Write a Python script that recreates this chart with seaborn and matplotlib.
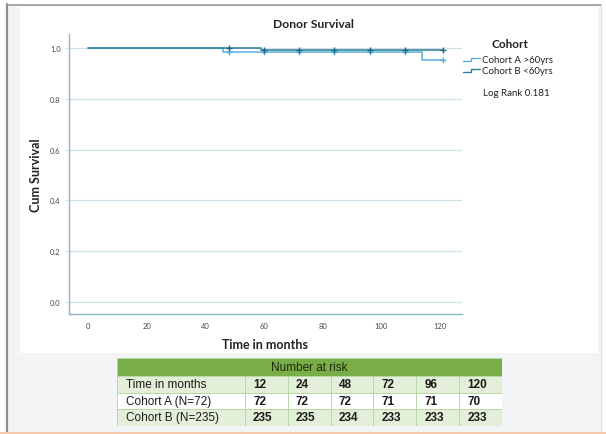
import numpy as np
import pandas as pd
import matplotlib
matplotlib.use("Agg")
import matplotlib.pyplot as plt
import seaborn as sns
from matplotlib.patches import Rectangle
from matplotlib.lines import Line2D

# Kaplan-Meier step data (months, cumulative survival)
cohorts = ["Cohort A >60yrs", "Cohort B <60yrs"]
time_a = [0, 46, 114, 121]
surv_a = [1.0, 0.986, 0.953, 0.953]
time_b = [0, 59, 121]
surv_b = [1.0, 0.991, 0.991]
censor_a = [48, 60, 72, 84, 96, 108, 121]
censor_b = [48, 60, 72, 84, 96, 108, 121]
log_rank = 0.181

xticks = [0, 20, 40, 60, 80, 100, 120]
yticks = [0.0, 0.2, 0.4, 0.6, 0.8, 1.0]

# Number-at-risk table
risk_times = [12, 24, 48, 72, 96, 120]
risk_a = [72, 72, 72, 71, 71, 70]
risk_b = [235, 235, 234, 233, 233, 233]
risk_rows = ["Time in months", "Cohort A (N=72)", "Cohort B (N=235)"]

col_a = "#5aafe0"
col_b = "#2d7f98"

sns.set_style("white")
plt.rcParams["font.family"] = ["Lato", "DejaVu Sans"]

W, H = 606, 435
fig = plt.figure(figsize=(W / 100, H / 100), dpi=100)
fig.patch.set_facecolor("white")


def frame(x0, y0, x1, y1):
    """Axes rectangle given in pixel coordinates (top-left origin)."""
    return [x0 / W, 1 - y1 / H, (x1 - x0) / W, (y1 - y0) / H]


# Background panel with frame
bg = fig.add_axes([0, 0, 1, 1], zorder=0)
bg.set_xlim(0, W)
bg.set_ylim(H, 0)
bg.axis("off")
bg.add_patch(Rectangle((7, 6), 594, 427, facecolor="#f3f4f5", edgecolor="none"))
bg.add_patch(Rectangle((20, 8), 578, 346, facecolor="white", edgecolor="none"))
bg.plot([7, 7], [5, 433], color="#8e8e8e", lw=1.6)
bg.plot([7, 601], [6, 6], color="#9a9a9a", lw=1.2)
bg.plot([601, 601], [6, 433], color="#e2e2e2", lw=0.8)
bg.plot([0, W], [433.5, 433.5], color="#f5c9a9", lw=1.4)

# Survival plot
ax = fig.add_axes(frame(69, 35, 462, 315), zorder=2)
ax.set_facecolor("white")

df = pd.concat([
    pd.DataFrame({"time": time_a, "surv": surv_a, "cohort": cohorts[0]}),
    pd.DataFrame({"time": time_b, "surv": surv_b, "cohort": cohorts[1]}),
])


def step_value(times, survs, t):
    idx = np.searchsorted(times, t, side="right") - 1
    return survs[idx]


cens = pd.concat([
    pd.DataFrame({"time": censor_a,
                  "surv": [step_value(time_a, surv_a, t) for t in censor_a],
                  "cohort": cohorts[0]}),
    pd.DataFrame({"time": censor_b,
                  "surv": [step_value(time_b, surv_b, t) for t in censor_b],
                  "cohort": cohorts[1]}),
])

palette = {cohorts[0]: col_a, cohorts[1]: col_b}
for c in cohorts:
    sub = df[df["cohort"] == c]
    sns.lineplot(data=sub, x="time", y="surv", ax=ax, color=palette[c],
                 drawstyle="steps-post", estimator=None, lw=1.1, legend=False,
                 zorder=3 if c == cohorts[1] else 2)
for c in cohorts:
    sub = cens[cens["cohort"] == c]
    sns.scatterplot(data=sub, x="time", y="surv", ax=ax, marker="+",
                    color="#1f6a82" if c == cohorts[1] else col_a,
                    s=16, linewidth=1.0, legend=False, zorder=4)

ax.set_xlim(-6.5, 127.5)
ax.set_ylim(-0.047, 1.055)
ax.set_xticks(xticks)
ax.set_yticks(yticks)
ax.set_xticklabels([str(v) for v in xticks])
ax.set_yticklabels([f"{v:.1f}" for v in yticks])
ax.yaxis.grid(True, color="#cfe0e8", lw=0.9)
ax.xaxis.grid(False)
ax.tick_params(axis="y", length=3, width=0.6, color="#cfe0e8",
               labelsize=5.5, labelcolor="#4a4a4a", pad=3, left=True)
ax.tick_params(axis="x", length=0, labelsize=5.5, labelcolor="#4a4a4a", pad=6)
for side in ["top", "right"]:
    ax.spines[side].set_visible(False)
for side in ["left", "bottom"]:
    ax.spines[side].set_color("#8db7c8")
    ax.spines[side].set_linewidth(1.0)
ax.set_xlabel("Time in months", fontsize=9, fontweight="bold",
              color="#222222", labelpad=6)
ax.set_ylabel("Cum Survival", fontsize=9, fontweight="bold",
              color="#222222", labelpad=6)

# Overlay for title and legend in pixel coordinates
ov = fig.add_axes([0, 0, 1, 1], zorder=5)
ov.set_xlim(0, W)
ov.set_ylim(H, 0)
ov.axis("off")
ov.patch.set_alpha(0)
ov.text(313, 25, "Donor Survival", fontsize=8.7, fontweight="bold",
        ha="center", va="center", color="#222222")
ov.text(510, 44, "Cohort", fontsize=8.5, fontweight="bold",
        ha="center", va="center", color="#222222")
for i, (c, col) in enumerate(zip(cohorts, [col_a, col_b])):
    y = 60.5 + 11 * i
    ov.add_line(Line2D([463, 471, 471, 480], [y + 1.5, y + 1.5, y - 1.5, y - 1.5],
                       color=col, lw=1.0))
    ov.text(482, y, c, fontsize=7, ha="left", va="center", color="#222222")
ov.text(516, 93, f"Log Rank {log_rank}", fontsize=7, ha="center",
        va="center", color="#222222")

# Number-at-risk table
tb = fig.add_axes(frame(117, 359, 502, 427), zorder=3)
tb.set_xlim(117, 502)
tb.set_ylim(427, 359)
tb.axis("off")
col_edges = [117, 245] + [245 + (502 - 245) / 6 * (i + 1) for i in range(6)]
row_edges = [359, 377, 393.5, 410, 427]
row_fill = ["#79ad47", "#e3efd9", "#ffffff", "#e3efd9"]
grid_col = "#b9d8a4"
for r in range(4):
    tb.add_patch(Rectangle((117, row_edges[r]), 385, row_edges[r + 1] - row_edges[r],
                           facecolor=row_fill[r], edgecolor=grid_col, lw=0.7))
for x in col_edges[1:-1]:
    tb.plot([x, x], [row_edges[1], row_edges[-1]], color=grid_col, lw=0.7)

tfont = ["Liberation Sans", "DejaVu Sans"]
tb.text(309.5, (row_edges[0] + row_edges[1]) / 2, "Number at risk", fontsize=8.5,
        ha="center", va="center", color="#1e2a10", family=tfont)
row_vals = [risk_times, risk_a, risk_b]
for r, (label, vals) in enumerate(zip(risk_rows, row_vals)):
    yc = (row_edges[r + 1] + row_edges[r + 2]) / 2
    tb.text(126, yc, label, fontsize=8.5, ha="left", va="center",
            color="#1a1a1a", family=tfont)
    for j, v in enumerate(vals):
        tb.text(col_edges[j + 1] + 8, yc, str(v), fontsize=8.5, ha="left",
                va="center", color="#1a1a1a", fontweight="bold", family=tfont)

fig.savefig("out.png", dpi=100)
